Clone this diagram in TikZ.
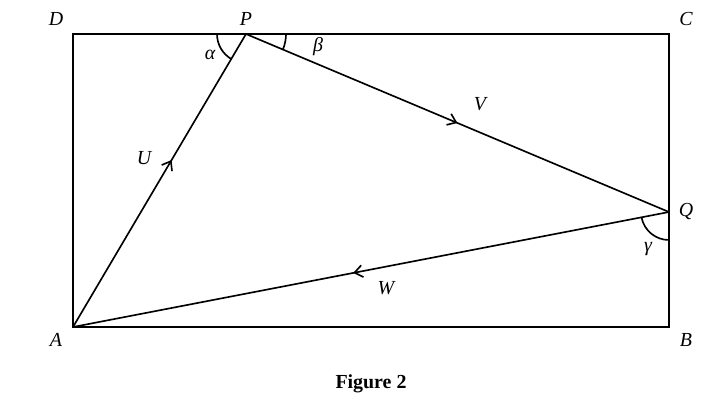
\documentclass[tikz,border=0pt]{standalone}
\usepackage{fontspec}
\setmainfont{Liberation Serif}
\usepackage{tikz}
\usetikzlibrary{positioning,angles,arrows.meta,decorations.markings}
\tikzstyle{figure} = [x = 0.03cm, y = -0.03cm, line width = 1.4pt]
\tikzstyle{sideLine} = [color=black, line width = 1.4pt]
\tikzstyle{pointText} = [font=\fontsize{17}{20}\selectfont\itshape, inner sep = 0pt]
\tikzstyle{angleArc} = [draw, line width = 1.4pt]
\tikzstyle{captionText} = [font=\fontsize{17}{20}\selectfont\bfseries, inner sep = 0pt]
\tikzset{vectorLine/.style={sideLine,
    decoration={markings, mark=at position #1 with {\arrow{Straight Barb[length=2.4mm, width=3.6mm, line width=1.4pt]}}},
    postaction={decorate}}}

\begin{document}
\begin{tikzpicture}[figure]
            \useasboundingbox (0,0) rectangle (722,407);
            \coordinate (A) at (73,327);
            \coordinate (B) at (669,327);
            \coordinate (C) at (669,34);
            \coordinate (D) at (73,34);
            \coordinate (P) at (246,34);
            \coordinate (Q) at (669,212);

            \draw [sideLine] (A) -- (B) -- (C) -- (D) -- cycle;
            \draw [vectorLine=0.57] (A) -- (P);
            \draw [vectorLine=0.5] (P) -- (Q);
            \draw [vectorLine=0.53] (Q) -- (A);

            \pic [angleArc, angle radius = 0.87cm] {angle = D--P--A};
            \pic [angleArc, angle radius = 1.2cm] {angle = Q--P--C};
            \pic [angleArc, angle radius = 0.84cm] {angle = A--Q--B};

            \node [pointText] (labelD) at (56,19) {D};
            \node [pointText] (labelP) at (246,19) {P};
            \node [pointText] (labelC) at (686,19) {C};
            \node [pointText] (labelQ) at (686,212) {Q};
            \node [pointText] (labelA) at (56,340) {A};
            \node [pointText] (labelB) at (686,340) {B};
            \node [pointText] (labelU) at (144,158) {U};
            \node [pointText] (labelV) at (480,104) {V};
            \node [pointText] (labelW) at (386,288) {W};
            \node [pointText] (labelAlpha) at (210,55) {α};
            \node [pointText] (labelBeta) at (318,47) {β};
            \node [pointText] (labelGamma) at (648,249) {γ};
            \node [captionText] (caption) at (371,384) {Figure 2};
          \end{tikzpicture}
\end{document}
